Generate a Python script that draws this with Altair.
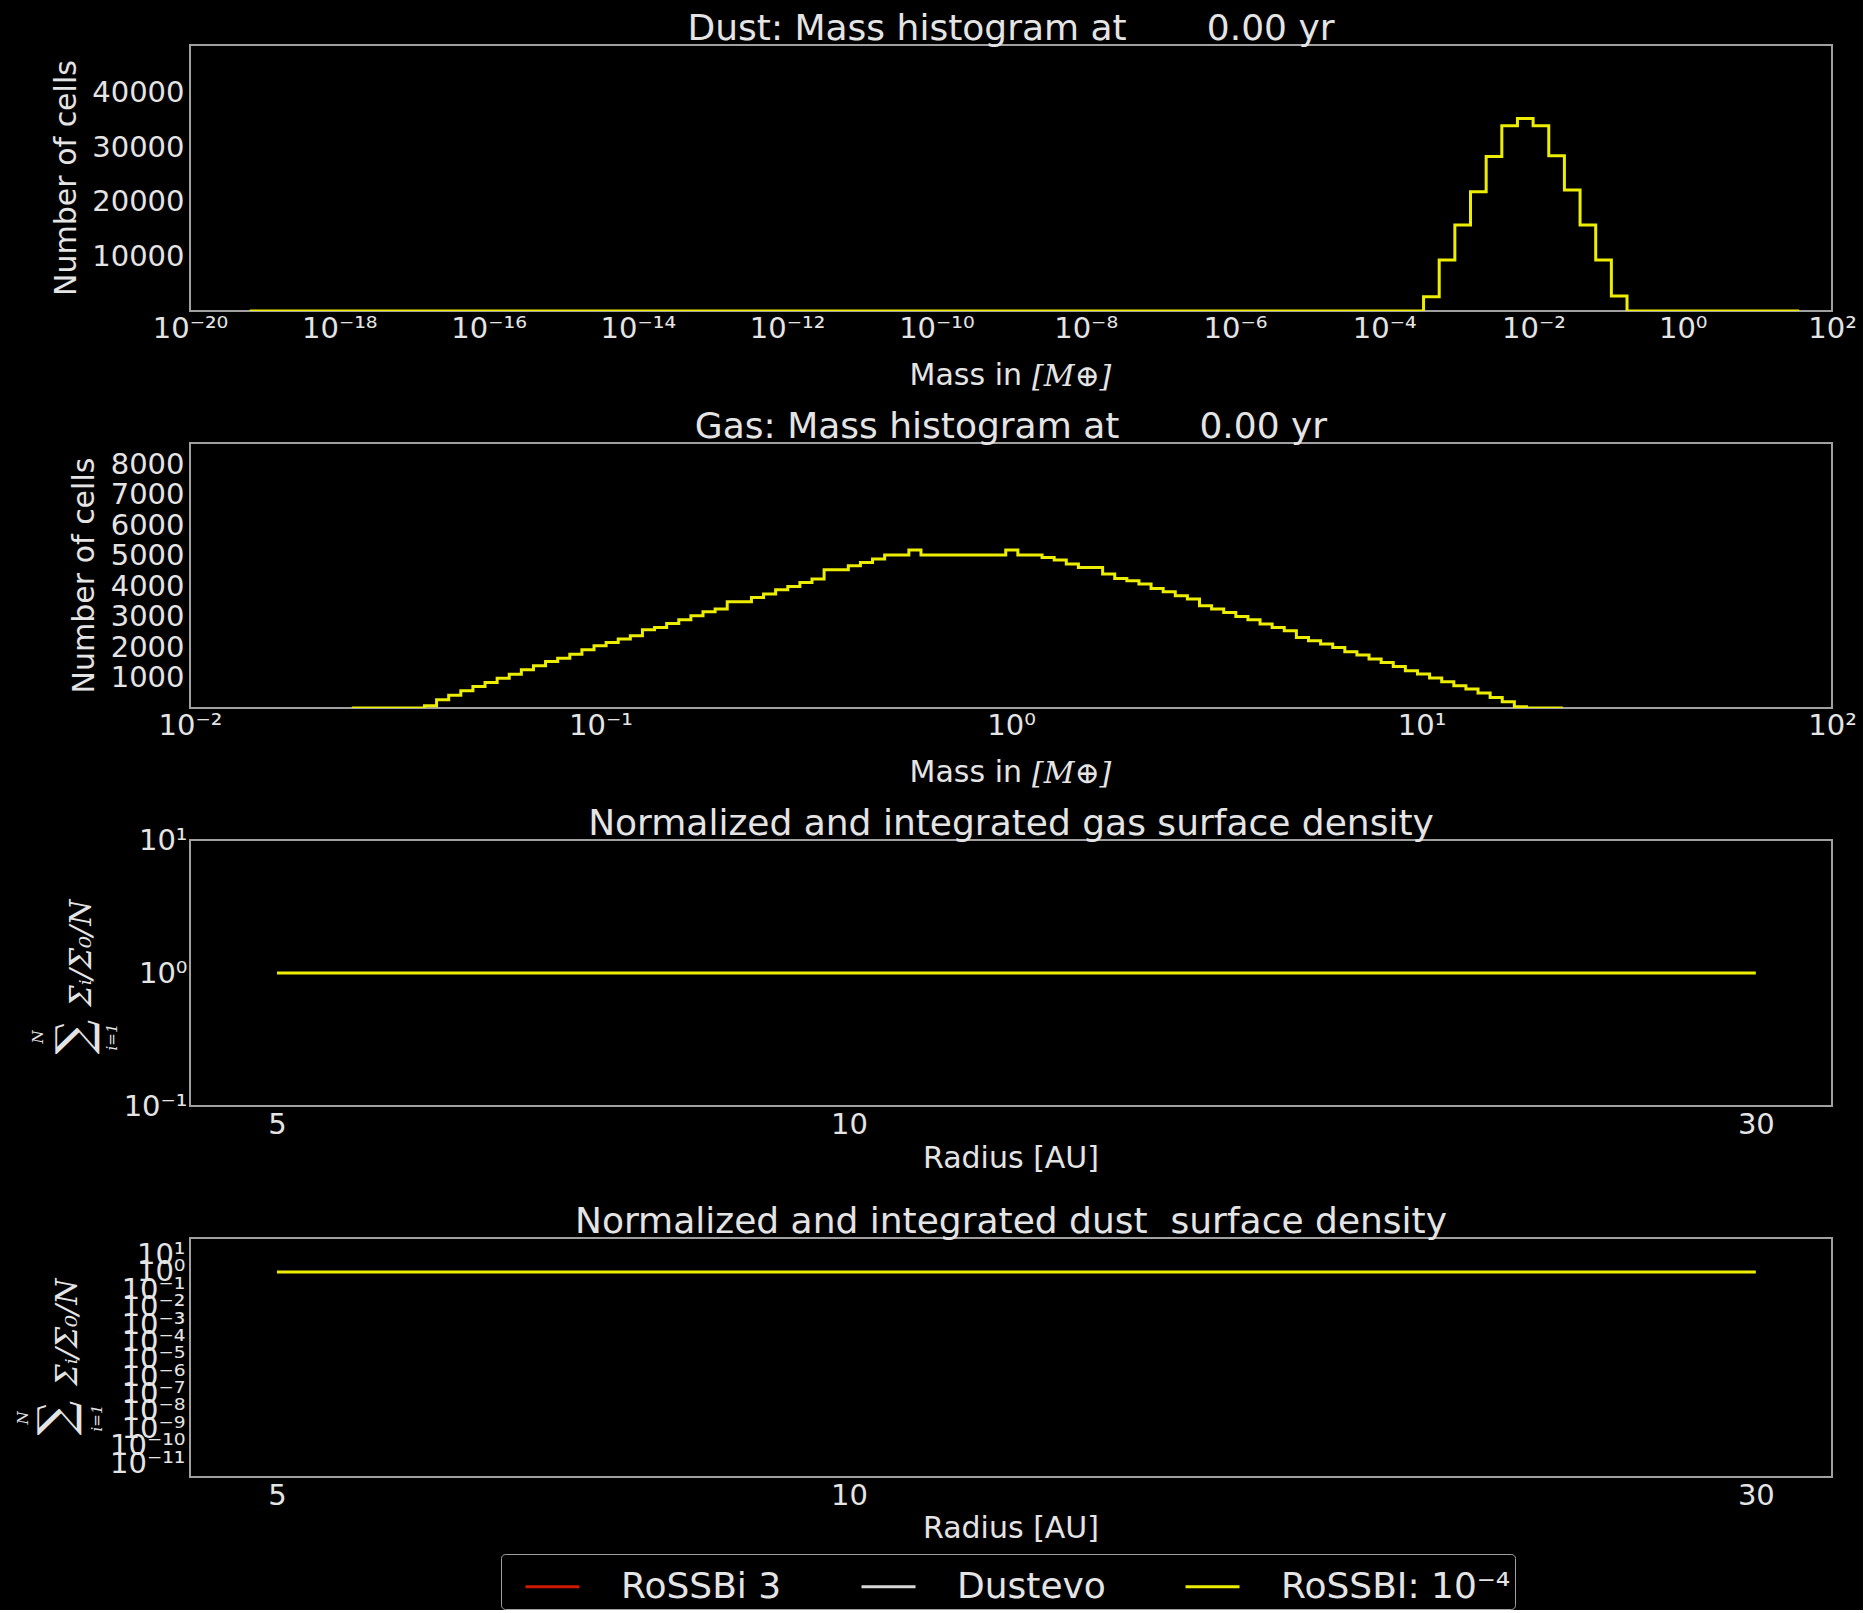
import altair as alt
import pandas as pd

# ---------------------------------------------------------------- style
BG = "#000000"
INK = "#e4e4e4"
FRAME = "#a0a0a0"
SANS = "DejaVu Sans"
SERIF = "DejaVu Serif"

SERIES = ["RoSSBi 3", "Dustevo", "RoSSBI: 10⁻⁴"]
SERIES_COLORS = ["#d01800", "#d8d8d8", "#eded00"]
RUN = SERIES[2]

# ---------------------------------------------------------------- data
# Dust: number of cells per log-spaced mass bin (bin edges in log10 M_earth)
dust_log_lo = -19.2
dust_bin_dex = 0.2097
dust_counts = ([0] * 75
               + [2630, 9370, 15800, 21900, 28350, 34000, 35300,
                  34000, 28500, 22200, 15800, 9370, 2750]
               + [0] * 11)

# Gas: number of cells per log-spaced mass bin
gas_log_lo = -1.6058
gas_bin_dex = 0.0295
gas_counts = ([0] * 6
              + [72, 269, 420, 564, 706, 837, 979, 1110, 1253, 1384,
                 1526, 1635, 1766, 1909, 2041, 2150, 2259, 2369, 2566, 2642,
                 2773, 2894, 3025, 3157, 3244, 3485, 3485, 3627, 3735, 3879,
                 3988, 4119, 4227, 4535, 4535, 4667, 4775, 4884]
              + [5015, 5015, 5180, 5015, 5015, 5015, 5015, 5015, 5015, 5015,
                 5180, 5015, 5015]
              + [4939, 4851, 4720, 4611, 4611, 4392, 4250, 4174, 4064, 3922,
                 3813, 3681, 3572, 3353, 3244, 3135, 3003, 2894, 2752, 2642,
                 2533, 2314, 2205, 2096, 1986, 1844, 1735, 1604, 1494, 1363,
                 1221, 1111, 980, 860, 729, 619, 488, 346, 204, 40]
              + [0] * 3)

# Normalized, integrated surface densities vs radius
radius_au = [5, 30]
gas_sigma_norm = [1.0, 1.0]
dust_sigma_norm = [1.0, 1.0]

# Axis ticks
dust_mass_exps = [-20, -18, -16, -14, -12, -10, -8, -6, -4, -2, 0, 2]
gas_mass_exps = [-2, -1, 0, 1, 2]
dust_cell_ticks = [10000, 20000, 30000, 40000]
gas_cell_ticks = [1000, 2000, 3000, 4000, 5000, 6000, 7000, 8000]
radius_ticks = [5, 10, 30]
gas_sigma_exps = [1, 0, -1]
dust_sigma_exps = [1, 0, -1, -2, -3, -4, -5, -6, -7, -8, -9, -10, -11]

W = 1642
H = [266, 265, 266, 239]
NBSP = "\u00a0"

# ---------------------------------------------------------------- helpers
SUP = str.maketrans("-0123456789", "⁻⁰¹²³⁴⁵⁶⁷⁸⁹")


def pow_text(e):
    return "10" + str(e).translate(SUP)


def pow_expr(exps):
    e = "round(log(datum.value) / LN10)"
    expr = "''"
    for x in exps:
        expr = f"({e} == {x}) ? '{pow_text(x)}' : ({expr})"
    return expr


def pow_axis(exps, pad):
    return alt.Axis(values=[10.0 ** e for e in exps], labelExpr=pow_expr(exps),
                    title=None, labelOverlap=False, labelFlush=False,
                    labelPadding=pad)


def plain_axis(values, pad):
    return alt.Axis(values=values, format="d", title=None, labelOverlap=False,
                    labelFlush=False, labelPadding=pad)


def hist_frame(lo, dex, counts):
    edges = [10 ** (lo + dex * i) for i in range(len(counts) + 1)]
    return pd.DataFrame({"mass": edges, "cells": list(counts) + [counts[-1]],
                         "series": RUN})


color = alt.Color("series:N", scale=alt.Scale(domain=SERIES, range=SERIES_COLORS),
                  legend=alt.Legend(title=None))


def text(t, x, y, size, font=SANS, style="normal", angle=0, align="center",
         baseline="middle"):
    return alt.Chart(pd.DataFrame({"t": [t]})).mark_text(
        font=font, fontSize=size, fontStyle=style, angle=angle, align=align,
        baseline=baseline, color=INK,
    ).encode(x=alt.value(x), y=alt.value(y), text="t:N")


def mass_title(h):
    return [text("Mass in", 832, h + 65, 30, align="right"),
            text("[M⊕]", 842, h + 66, 30, font=SERIF, style="italic", align="left")]


def sigma_title(xs, y_frac, y_sum):
    fx, sx, nx, ix = xs
    return [
        text("Σᵢ/Σ₀/N", fx, y_frac, 30, font=SERIF, style="italic", angle=270),
        text("∑", sx, y_sum, 48, font=SERIF, angle=270),
        text("N", nx, y_sum, 15, font=SERIF, style="italic", angle=270),
        text("i=1", ix, y_sum, 15, font=SERIF, style="italic", angle=270),
    ]


# ---------------------------------------------------------------- panel 1: dust histogram
dust_df = hist_frame(dust_log_lo, dust_bin_dex, dust_counts)
dust_hist = alt.Chart(dust_df).mark_line(interpolate="step-after", strokeWidth=3, clip=True).encode(
    x=alt.X("mass:Q", scale=alt.Scale(type="log", domain=[1e-20, 1e2], nice=False),
            axis=pow_axis(dust_mass_exps, 3)),
    y=alt.Y("cells:Q", scale=alt.Scale(domain=[0, 48800], nice=False, zero=False),
            axis=plain_axis(dust_cell_ticks, 6)),
    color=color,
)
p1 = alt.layer(
    dust_hist,
    text("Dust: Mass histogram at" + NBSP * 7 + "0.00 yr", W / 2, -5, 36, baseline="alphabetic"),
    text("Number of cells", -123, H[0] / 2, 30, angle=270),
    *mass_title(H[0]),
).properties(width=W, height=H[0])

# ---------------------------------------------------------------- panel 2: gas histogram
gas_df = hist_frame(gas_log_lo, gas_bin_dex, gas_counts)
gas_hist = alt.Chart(gas_df).mark_line(interpolate="step-after", strokeWidth=3, clip=True).encode(
    x=alt.X("mass:Q", scale=alt.Scale(type="log", domain=[1e-2, 1e2], nice=False),
            axis=pow_axis(gas_mass_exps, 3)),
    y=alt.Y("cells:Q", scale=alt.Scale(domain=[0, 8690], nice=False, zero=False),
            axis=plain_axis(gas_cell_ticks, 6)),
    color=color,
)
p2 = alt.layer(
    gas_hist,
    text("Gas: Mass histogram at" + NBSP * 7 + "0.00 yr", W / 2, -5, 36, baseline="alphabetic"),
    text("Number of cells", -105, H[1] / 2, 30, angle=270),
    *mass_title(H[1]),
).properties(width=W, height=H[1])

# ---------------------------------------------------------------- panel 3: gas surface density
radius_scale = alt.Scale(type="log", domain=[4.5, 32.9], nice=False)
gas_sd = alt.Chart(pd.DataFrame({"r": radius_au, "s": gas_sigma_norm, "series": RUN})).mark_line(
    strokeWidth=3, clip=True).encode(
    x=alt.X("r:Q", scale=radius_scale, axis=plain_axis(radius_ticks, 4)),
    y=alt.Y("s:Q", scale=alt.Scale(type="log", domain=[0.1, 10], nice=False),
            axis=pow_axis(gas_sigma_exps, 3)),
    color=color,
)
p3 = alt.layer(
    gas_sd,
    text("Normalized and integrated gas surface density", W / 2, -5, 36, baseline="alphabetic"),
    text("Radius [AU]", W / 2, H[2] + 53, 30),
    *sigma_title((-108, -114, -152, -78), 113, 197),
).properties(width=W, height=H[2])

# ---------------------------------------------------------------- panel 4: dust surface density
dust_sd = alt.Chart(pd.DataFrame({"r": radius_au, "s": dust_sigma_norm, "series": RUN})).mark_line(
    strokeWidth=3, clip=True).encode(
    x=alt.X("r:Q", scale=radius_scale, axis=plain_axis(radius_ticks, 4)),
    y=alt.Y("s:Q", scale=alt.Scale(type="log", domain=[10 ** -11.8, 10 ** 1.955], nice=False),
            axis=pow_axis(dust_sigma_exps, 5)),
    color=color,
)
p4 = alt.layer(
    dust_sd,
    text("Normalized and integrated dust" + NBSP * 2 + "surface density", W / 2, -5, 36,
         baseline="alphabetic"),
    text("Radius [AU]", W / 2, H[3] + 52, 30),
    *sigma_title((-122, -132, -167, -93), 94, 180),
).properties(width=W, height=H[3])

# ---------------------------------------------------------------- figure
chart = alt.vconcat(p1, p2, p3, p4, spacing=132, bounds="flush").configure(
    background=BG,
    padding={"left": 15, "top": 10, "right": 5, "bottom": 0},
).configure_view(
    stroke=FRAME, strokeWidth=2,
).configure_axis(
    domain=False, ticks=False, grid=False,
    labelFont=SANS, labelFontSize=29, labelColor=INK,
).configure_legend(
    orient="none", legendX=311, legendY=1509, direction="horizontal",
    symbolType="stroke", symbolSize=2916, symbolStrokeWidth=3, symbolOffset=19,
    labelFont=SANS, labelFontSize=36, labelColor=INK, labelLimit=600,
    labelOffset=40, columnPadding=59, padding=4,
    strokeColor=FRAME, fillColor=BG, cornerRadius=4,
)

chart.save("out.html", embed_options={"renderer": "svg", "actions": False})
